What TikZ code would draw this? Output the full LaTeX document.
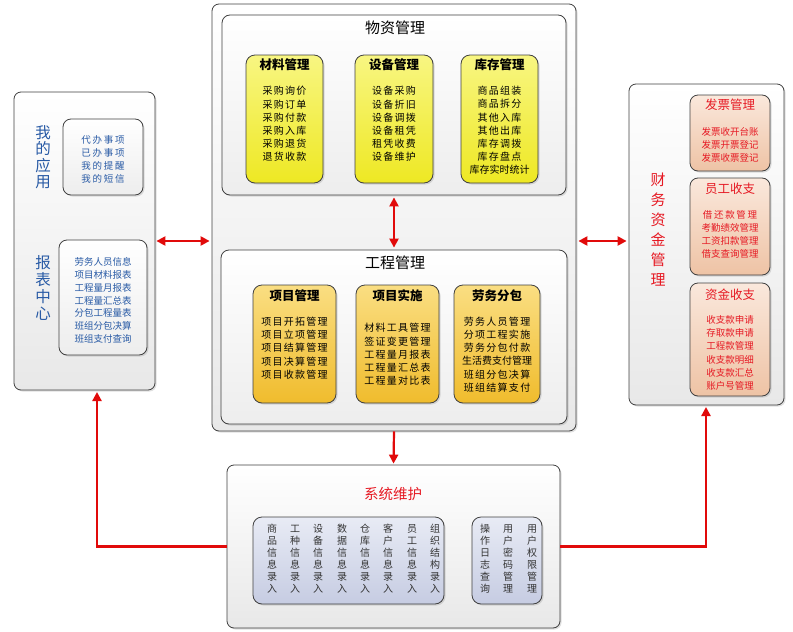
\documentclass[tikz,border=0pt]{standalone}
\usepackage{fontspec}
\setmainfont{Noto Sans CJK SC}
\newfontfamily\cjksp[LetterSpace=13]{Noto Sans CJK SC}
\newfontfamily\cjkspw[LetterSpace=18]{Noto Sans CJK SC}
\usetikzlibrary{arrows.meta,shadows}
\definecolor{ylwT}{RGB}{248,246,130}
\definecolor{ylwB}{RGB}{238,232,35}
\definecolor{gldT}{RGB}{250,222,130}
\definecolor{gldB}{RGB}{240,188,45}
\definecolor{pchT}{RGB}{250,232,220}
\definecolor{pchB}{RGB}{238,195,165}
\definecolor{bluT}{RGB}{232,235,245}
\definecolor{bluB}{RGB}{198,204,226}
\definecolor{txtblue}{RGB}{40,90,165}
\definecolor{txtred}{RGB}{230,25,35}
\definecolor{arrred}{RGB}{225,10,10}
\begin{document}
\begin{tikzpicture}[x=1pt,y=-1pt,
  boxbase/.style={draw=black!75, line width=0.8pt, inner sep=0pt,
    drop shadow={opacity=0.25,shadow xshift=1.5pt,shadow yshift=-1.5pt}},
  outerbox/.style={boxbase, rounded corners=7pt, top color=white, bottom color=black!9},
  innerbox/.style={boxbase, rounded corners=8pt, top color=white, bottom color=black!7},
  ylwbox/.style={boxbase, rounded corners=9pt, top color=ylwT, bottom color=ylwB},
  gldbox/.style={boxbase, rounded corners=9pt, top color=gldT, bottom color=gldB},
  pchbox/.style={boxbase, rounded corners=8pt, top color=pchT, bottom color=pchB},
  blubox/.style={boxbase, rounded corners=9pt, top color=bluT, bottom color=bluB},
  items/.style={align=center, inner sep=0pt, font=\fontsize{10}{13.2}\selectfont},
  spitems/.style={align=center, inner sep=0pt, font=\cjksp\fontsize{10}{13.2}\selectfont},
  boxtitle/.style={inner sep=0pt, font=\bfseries\fontsize{12.5}{14}\selectfont},
  bigtitle/.style={inner sep=0pt, font=\fontsize{15}{16}\selectfont},
  vtitle/.style={align=center, inner sep=0pt},
  vcol/.style={align=center, inner sep=0pt, text=black!80, font=\fontsize{10}{12}\selectfont},
  conn/.style={draw=arrred, line width=2.2pt},
  tip/.tip={Triangle[width=9pt,length=9pt]}
]
\useasboundingbox (0,0) rectangle (793,632);

% ---------------- left panel
\node[outerbox, minimum width=141pt, minimum height=298pt] (lo) at (84.5,241) {};
\node[innerbox, minimum width=80pt, minimum height=76pt] (lt) at (103,157) {};
\node[innerbox, minimum width=88pt, minimum height=115pt] (lbx) at (103,297.5) {};
\node[vtitle, text=txtblue, font=\fontsize{15.5}{16.5}\selectfont] (myapp) at (43,157) {我\\的\\应\\用};
\node[vtitle, text=txtblue, font=\fontsize{15.5}{17}\selectfont] (report) at (43,288) {报\\表\\中\\心};
\node[items, text=txtblue, font=\cjkspw\fontsize{9.5}{13}\selectfont] (lti) at (103,159.5) {代办事项\\已办事项\\我的提醒\\我的短信};
\node[items, text=txtblue, font=\fontsize{9.5}{12.8}\selectfont] (lbi) at (103,300.5) {劳务人员信息\\项目材料报表\\工程量月报表\\工程量汇总表\\分包工程量表\\班组分包决算\\班组支付查询};

% ---------------- center panel
\node[outerbox, minimum width=364pt, minimum height=427pt] (co) at (394,217.5) {};
\node[innerbox, minimum width=344pt, minimum height=180pt] (ti) at (394,105) {};
\node[bigtitle] (tit1) at (395,28) {物资管理};
\node[ylwbox, minimum width=77pt, minimum height=128pt] (y1) at (284.5,119) {};
\node[ylwbox, minimum width=78pt, minimum height=128pt] (y2) at (394,119) {};
\node[ylwbox, minimum width=77pt, minimum height=128pt] (y3) at (499.5,119) {};
\node[boxtitle] (y1t) at (284.5,65) {材料管理};
\node[boxtitle] (y2t) at (394,65) {设备管理};
\node[boxtitle] (y3t) at (499.5,65) {库存管理};
\node[spitems] (y1i) at (284.5,124) {采购询价\\采购订单\\采购付款\\采购入库\\采购退货\\退货收款};
\node[spitems] (y2i) at (394,124) {设备采购\\设备折旧\\设备调拨\\设备租凭\\租凭收费\\设备维护};
\node[spitems] (y3i) at (499.5,130.6) {商品组装\\商品拆分\\其他入库\\其他出库\\库存调拨\\库存盘点\\{\rmfamily 库存实时统计}};

\node[innerbox, minimum width=346pt, minimum height=174pt] (bi) at (394,337) {};
\node[bigtitle] (tit2) at (395,263) {工程管理};
\node[gldbox, minimum width=83pt, minimum height=118pt] (g1) at (294.5,344) {};
\node[gldbox, minimum width=83pt, minimum height=118pt] (g2) at (397.5,344) {};
\node[gldbox, minimum width=86pt, minimum height=118pt] (g3) at (497,344) {};
\node[boxtitle] (g1t) at (294.5,296) {项目管理};
\node[boxtitle] (g2t) at (397.5,296) {项目实施};
\node[boxtitle] (g3t) at (497,296) {劳务分包};
\node[spitems] (g1i) at (294.5,348) {项目开拓管理\\项目立项管理\\项目结算管理\\项目决算管理\\项目收款管理};
\node[spitems] (g2i) at (397.5,354.5) {材料工具管理\\签证变更管理\\工程量月报表\\工程量汇总表\\工程量对比表};
\node[spitems] (g3i) at (497,354.5) {劳务人员管理\\分项工程实施\\劳务分包付款\\{\rmfamily 生活费支付管理}\\班组分包决算\\班组结算支付};

% ---------------- right panel
\node[outerbox, minimum width=155pt, minimum height=321pt] (ro) at (706.5,244.5) {};
\node[pchbox, minimum width=80pt, minimum height=76pt] (p1) at (730,133) {};
\node[pchbox, minimum width=80pt, minimum height=97pt] (p2) at (730,226.5) {};
\node[pchbox, minimum width=80pt, minimum height=113pt] (p3) at (730,339.5) {};
\node[vtitle, text=txtred, font=\fontsize{15}{20}\selectfont] (fin) at (658,230) {财\\务\\资\\金\\管\\理};
\node[inner sep=0pt, text=txtred, font=\fontsize{12.5}{14}\selectfont] (p1t) at (730,105) {发票管理};
\node[inner sep=0pt, text=txtred, font=\fontsize{12.5}{14}\selectfont] (p2t) at (730,189) {员工收支};
\node[inner sep=0pt, text=txtred, font=\fontsize{12.5}{14}\selectfont] (p3t) at (730,295) {资金收支};
\node[items, text=txtred, font=\fontsize{9.5}{13.2}\selectfont] (p1i) at (730,145) {发票收开台账\\发票开票登记\\发票收票登记};
\node[items, text=txtred, font=\fontsize{9.5}{13.2}\selectfont] (p2i) at (730,234.5) {{\cjkspw 借还款管理}\\考勤绩效管理\\工资扣款管理\\借支查询管理};
\node[items, text=txtred, font=\fontsize{9.5}{13.2}\selectfont] (p3i) at (730,353) {收支款申请\\存取款申请\\工程款管理\\收支款明细\\收支款汇总\\账户号管理};

% ---------------- system maintenance
\node[outerbox, minimum width=333pt, minimum height=163pt] (sys) at (393.5,546.5) {};
\node[inner sep=0pt, text=txtred, font=\fontsize{14.5}{16}\selectfont] (syst) at (393,494) {系统维护};
\node[blubox, minimum width=191pt, minimum height=87pt] (s1) at (348.5,560.5) {};
\node[blubox, minimum width=70pt, minimum height=87pt] (s2) at (507,560.5) {};
\node[vcol] (c1) at (272,559) {商\\品\\信\\息\\录\\入};
\node[vcol] (c2) at (295,559) {工\\种\\信\\息\\录\\入};
\node[vcol] (c3) at (318,559) {设\\备\\信\\息\\录\\入};
\node[vcol] (c4) at (342,559) {数\\据\\信\\息\\录\\入};
\node[vcol] (c5) at (365,559) {仓\\库\\信\\息\\录\\入};
\node[vcol] (c6) at (388,559) {客\\户\\信\\息\\录\\入};
\node[vcol] (c7) at (412,559) {员\\工\\信\\息\\录\\入};
\node[vcol] (c8) at (435,559) {组\\织\\结\\构\\录\\入};
\node[vcol] (d1) at (485,559) {操\\作\\日\\志\\查\\询};
\node[vcol] (d2) at (508,559) {用\\户\\密\\码\\管\\理};
\node[vcol] (d3) at (532,559) {用\\户\\权\\限\\管\\理};

% ---------------- connectors
\coordinate (lbend) at (97,392);
\coordinate (rbend) at (706,407);
\draw[conn, tip-tip, shorten <=1pt, shorten >=2pt] (lo.east) -- (lo.east -| co.west);
\draw[conn, tip-tip, shorten <=2pt, shorten >=2pt] (co.east |- lo.east) -- (ro.west |- lo.east);
\draw[conn, tip-tip, shorten <=2pt, shorten >=2pt] (ti.south) -- (bi.north);
\draw[conn, -tip, shorten >=1pt] (co.south) -- (sys.north);
\draw[conn, -tip] (sys.west) -- (sys.west -| lbend) -- (lbend);
\draw[conn, -tip] (sys.east) -- (sys.east -| rbend) -- (rbend);
\end{tikzpicture}
\end{document}
